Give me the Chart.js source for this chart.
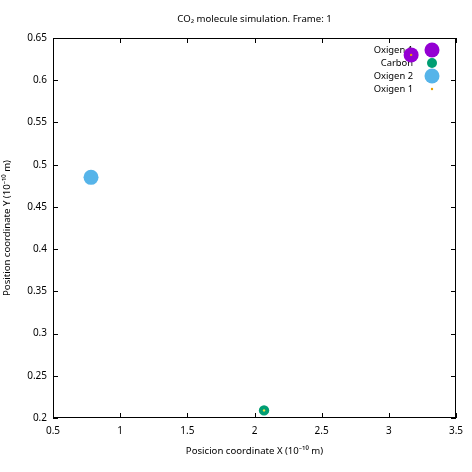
<!DOCTYPE html>
<html lang="en">
<head>
    <meta charset="UTF-8">
    <title>CO2 molecule simulation</title>
    <script src="https://cdn.jsdelivr.net/npm/chart.js"></script>
    <style>
        html, body { margin: 0; padding: 0; background: #fff; }
        .container { width: 472px; height: 472px; }
    </style>
</head>
<body>

<div class="container">
    <canvas id="myChart"></canvas>
</div>

<script>
    const seriesLabels = ['Oxigen 1', 'Carbon', 'Oxigen 2', 'Oxigen 1', ''];
    const oxigen1X = [3.166];
    const oxigen1Y = [0.630];
    const carbonX = [2.071];
    const carbonY = [0.209];
    const oxigen2X = [0.783];
    const oxigen2Y = [0.485];
    const trail1X = [3.166];
    const trail1Y = [0.630];
    const trail2X = [2.071];
    const trail2Y = [0.209];
    const xTicks = [0.5, 1, 1.5, 2, 2.5, 3, 3.5];
    const yTicks = [0.2, 0.25, 0.3, 0.35, 0.4, 0.45, 0.5, 0.55, 0.6, 0.65];
    const titleText = 'CO\u2082 molecule simulation. Frame: 1';

    const toPoints = (xs, ys) => xs.map((v, i) => ({x: v, y: ys[i]}));
    const family = "'Noto Sans', sans-serif";
    const tickFont = {family: family, size: 10};
    const titleFont = {family: family, size: 9.6};

    // gnuplot style box, inward mirrored ticks, title and key
    const frame = {
        id: 'frame',
        beforeDatasetsDraw(chart) {
            const {ctx, chartArea: a, scales: {x, y}} = chart;
            const len = 5;
            ctx.save();
            ctx.strokeStyle = '#000';
            ctx.lineWidth = 1;
            ctx.strokeRect(Math.round(a.left) + 0.5, Math.round(a.top) + 0.5,
                Math.round(a.width) - 1, Math.round(a.height) - 1);
            ctx.beginPath();
            x.ticks.forEach(t => {
                const px = Math.round(x.getPixelForValue(t.value)) + 0.5;
                ctx.moveTo(px, a.bottom); ctx.lineTo(px, a.bottom - len);
                ctx.moveTo(px, a.top); ctx.lineTo(px, a.top + len);
            });
            y.ticks.forEach(t => {
                const py = Math.round(y.getPixelForValue(t.value)) + 0.5;
                ctx.moveTo(a.left, py); ctx.lineTo(a.left + len, py);
                ctx.moveTo(a.right, py); ctx.lineTo(a.right - len, py);
            });
            ctx.stroke();

            ctx.fillStyle = '#000';
            ctx.textBaseline = 'middle';
            ctx.textAlign = 'center';
            ctx.font = "9.6px 'Noto Sans', sans-serif";
            ctx.fillText(titleText, (a.left + a.right) / 2, 19);

            // key
            ctx.font = "9.4px 'Noto Sans', sans-serif";
            ctx.textAlign = 'right';
            chart.data.datasets.forEach((ds, i) => {
                if (!ds.label) return;
                const ky = a.top + 12 + i * 13;
                ctx.fillStyle = '#000';
                ctx.fillText(ds.label, a.right - 43, ky);
                ctx.beginPath();
                ctx.fillStyle = ds.backgroundColor;
                ctx.arc(a.right - 24, ky, ds.keyRadius, 0, Math.PI * 2);
                ctx.fill();
            });
            ctx.restore();
        }
    };

    const ctx = document.getElementById('myChart').getContext('2d');
    const myChart = new Chart(ctx, {
        type: 'scatter',
        data: {
            datasets: [{
                label: seriesLabels[0],
                data: toPoints(oxigen1X, oxigen1Y),
                backgroundColor: '#9400d3',
                pointRadius: 7.5,
                keyRadius: 7.5,
                order: 5
            }, {
                label: seriesLabels[1],
                data: toPoints(carbonX, carbonY),
                backgroundColor: '#009e73',
                pointRadius: 5.2,
                keyRadius: 5,
                order: 4
            }, {
                label: seriesLabels[2],
                data: toPoints(oxigen2X, oxigen2Y),
                backgroundColor: '#56b4e9',
                pointRadius: 7.5,
                keyRadius: 7.5,
                order: 3
            }, {
                label: seriesLabels[3],
                data: toPoints(trail1X, trail1Y),
                backgroundColor: '#e69f00',
                pointRadius: 1.2,
                keyRadius: 1.2,
                order: 2
            }, {
                label: seriesLabels[4],
                data: toPoints(trail2X, trail2Y),
                backgroundColor: '#f0e442',
                pointRadius: 1.2,
                keyRadius: 1.2,
                order: 1
            }]
        },
        options: {
            responsive: true,
            maintainAspectRatio: false,
            animation: false,
            layout: { padding: {left: 0, right: 16, top: 38, bottom: 0} },
            elements: { point: { borderWidth: 0, hoverRadius: 0 } },
            plugins: {
                legend: { display: false },
                tooltip: { enabled: false },
                title: { display: false }
            },
            scales: {
                x: {
                    type: 'linear',
                    min: 0.5,
                    max: 3.5,
                    afterBuildTicks: s => { s.ticks = xTicks.map(v => ({value: v})); },
                    afterFit: s => { s.height = 54; },
                    grid: { display: false, drawTicks: false },
                    border: { display: false },
                    ticks: { color: '#000', font: tickFont, padding: 7, callback: v => String(v) },
                    title: {
                        display: true,
                        text: 'Posicion coordinate X (10\u207b\u00b9\u2070 m)',
                        color: '#000',
                        font: titleFont,
                        padding: {top: 0, bottom: 15}
                    }
                },
                y: {
                    type: 'linear',
                    min: 0.2,
                    max: 0.65,
                    afterBuildTicks: s => { s.ticks = yTicks.map(v => ({value: v})); },
                    afterFit: s => { s.width = 53; },
                    grid: { display: false, drawTicks: false },
                    border: { display: false },
                    ticks: { color: '#000', font: tickFont, padding: 6, callback: v => String(v) },
                    title: {
                        display: true,
                        text: 'Position coordinate Y (10\u207b\u00b9\u2070 m)',
                        color: '#000',
                        font: titleFont,
                        padding: {top: 2, bottom: 0}
                    }
                }
            }
        },
        plugins: [frame]
    });
</script>

</body>
</html>
